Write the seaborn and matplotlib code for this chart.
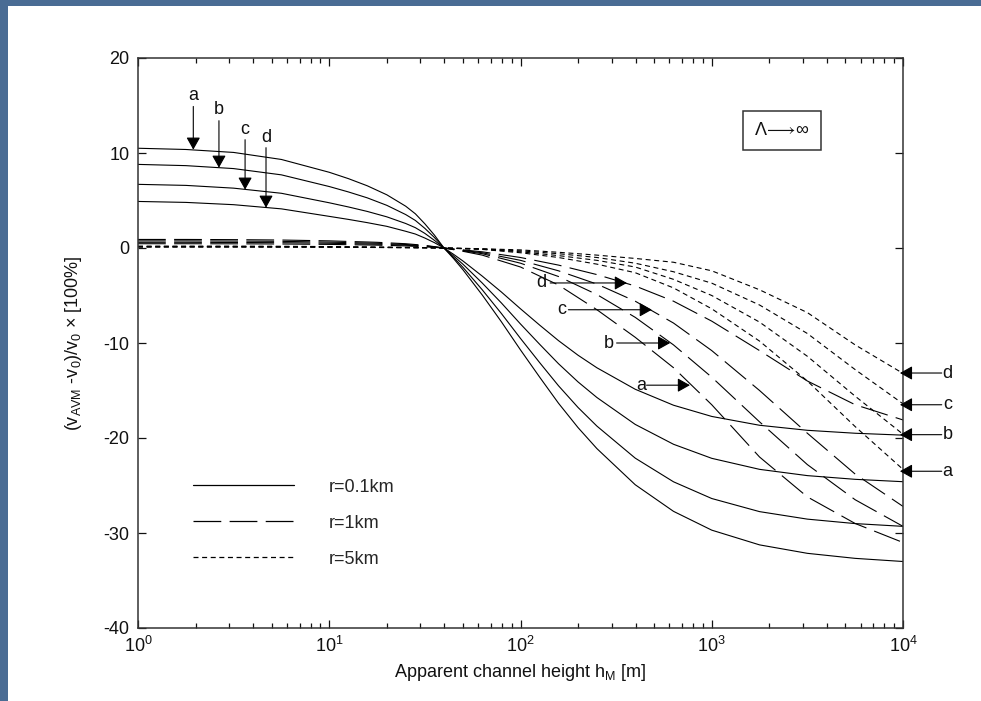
import numpy as np
import pandas as pd
import matplotlib
matplotlib.use("Agg")
import matplotlib.pyplot as plt
import seaborn as sns
from matplotlib.lines import Line2D
from matplotlib.patches import Rectangle

# ---------------- data ----------------
# heights for the r = 0.1 km curves (denser near the crossing point)
h_solid = [1, 1.78, 3.16, 5.62, 10, 12.6, 15.8, 20, 25.1, 28.2, 31.6, 35.5, 39.8, 44.7,
           50.1, 63.1, 79.4, 100, 126, 158, 200, 251, 398, 631, 1000, 1778, 3162, 5623, 10000]
# heights for the r = 1 km and r = 5 km curves
h = [1, 1.78, 3.16, 5.62, 10, 17.8, 25.1, 31.6, 39.8, 50.1, 63.1, 100, 158, 251,
     398, 631, 1000, 1778, 3162, 5623, 10000]

# r = 0.1 km (solid)
solid_a = [10.5, 10.37, 10.06, 9.32, 7.97, 7.30, 6.55, 5.60, 4.40, 3.60, 2.55, 1.35, 0,
           -1.12, -2.31, -4.95, -7.76, -10.73, -13.6, -16.34, -18.91, -21.12, -24.92,
           -27.72, -29.7, -31.25, -32.14, -32.67, -33.0]
solid_b = [8.8, 8.67, 8.36, 7.7, 6.47, 5.9, 5.28, 4.49, 3.52, 2.9, 2.07, 1.1, 0,
           -1.0, -2.05, -4.4, -6.89, -9.52, -12.07, -14.5, -16.79, -18.75, -22.12,
           -24.61, -26.37, -27.75, -28.54, -29.01, -29.3]
solid_c = [6.7, 6.59, 6.3, 5.76, 4.76, 4.32, 3.85, 3.28, 2.58, 2.14, 1.54, 0.8, 0,
           -0.84, -1.72, -3.69, -5.78, -8.0, -10.14, -12.18, -14.1, -15.74, -18.57,
           -20.66, -22.14, -23.3, -23.96, -24.35, -24.6]
solid_d = [4.9, 4.8, 4.56, 4.12, 3.33, 3.01, 2.67, 2.28, 1.76, 1.47, 1.05, 0.56, 0,
           -0.67, -1.38, -2.96, -4.63, -6.4, -8.12, -9.75, -11.29, -12.61, -14.87,
           -16.55, -17.73, -18.66, -19.19, -19.5, -19.7]

# r = 1 km (dashed)
dash_a = [0.9, 0.9, 0.88, 0.84, 0.75, 0.6, 0.45, 0.28, 0, -0.35, -0.75, -2.0, -3.9, -6.5,
          -9.4, -12.6, -16.5, -22.0, -26.2, -29.0, -31.0]
dash_b = [0.75, 0.75, 0.73, 0.7, 0.62, 0.5, 0.37, 0.23, 0, -0.3, -0.6, -1.6, -3.0, -4.9,
          -7.3, -10.2, -13.6, -18.3, -22.8, -26.5, -29.3]
dash_c = [0.6, 0.6, 0.58, 0.56, 0.5, 0.4, 0.3, 0.18, 0, -0.25, -0.5, -1.3, -2.4, -3.8,
          -5.6, -7.9, -10.8, -15.0, -19.5, -23.8, -27.2]
dash_d = [0.45, 0.45, 0.44, 0.42, 0.38, 0.3, 0.22, 0.13, 0, -0.2, -0.4, -1.0, -1.8, -2.8,
          -4.0, -5.6, -7.7, -10.8, -14.0, -16.5, -18.1]

# r = 5 km (dotted)
dot_a = [0.2, 0.2, 0.2, 0.18, 0.15, 0.1, 0.07, 0.04, 0, -0.08, -0.15, -0.5, -1.0, -1.7,
         -2.6, -4.2, -6.4, -9.8, -14.0, -18.8, -23.3]
dot_b = [0.15, 0.15, 0.15, 0.14, 0.12, 0.08, 0.05, 0.03, 0, -0.06, -0.12, -0.4, -0.8, -1.3,
         -2.0, -3.3, -5.0, -7.8, -11.4, -15.6, -19.6]
dot_c = [0.12, 0.12, 0.12, 0.11, 0.1, 0.06, 0.04, 0.02, 0, -0.05, -0.1, -0.3, -0.6, -1.0,
         -1.6, -2.5, -3.7, -6.0, -9.0, -12.8, -16.4]
dot_d = [0.1, 0.1, 0.1, 0.09, 0.08, 0.05, 0.03, 0.02, 0, -0.03, -0.08, -0.2, -0.45, -0.75,
         -1.1, -1.5, -2.4, -4.4, -6.8, -10.2, -13.2]

series = {
    ("r=0.1km", "a"): (h_solid, solid_a), ("r=0.1km", "b"): (h_solid, solid_b),
    ("r=0.1km", "c"): (h_solid, solid_c), ("r=0.1km", "d"): (h_solid, solid_d),
    ("r=1km", "a"): (h, dash_a), ("r=1km", "b"): (h, dash_b),
    ("r=1km", "c"): (h, dash_c), ("r=1km", "d"): (h, dash_d),
    ("r=5km", "a"): (h, dot_a), ("r=5km", "b"): (h, dot_b),
    ("r=5km", "c"): (h, dot_c), ("r=5km", "d"): (h, dot_d),
}
legend_labels = ["r=0.1km", "r=1km", "r=5km"]

# annotation arrows
curve_letters = ["a", "b", "c", "d"]
top_arrow_x = [1.946, 2.65, 3.63, 4.67]
top_label_y = [16.1, 14.55, 12.45, 11.6]
top_start_y = [14.9, 13.4, 11.4, 10.56]
top_tip_y = [10.35, 8.45, 6.14, 4.24]

mid_label_x = [427, 291, 164.5, 129]
mid_start_x = [456, 318, 178, 143]
mid_tip_x = [769, 606, 486, 360]
mid_y = [-14.44, -10.0, -6.5, -3.68]

right_y = [-23.5, -19.65, -16.5, -13.16]
right_label_x = 17060
right_start_x = 15940
right_tip_x = 9640

rows = []
for (r, c), (hs, vals) in series.items():
    for hx, v in zip(hs, vals):
        rows.append({"h": hx, "v": v, "r": r, "curve": r + c})
df = pd.DataFrame(rows)

# ---------------- style ----------------
sns.set_theme(style="ticks")
plt.rcParams["font.family"] = ["Liberation Sans", "DejaVu Sans"]
plt.rcParams["mathtext.default"] = "regular"
plt.rcParams["axes.unicode_minus"] = False
plt.rcParams["lines.scale_dashes"] = False

FS = 13
INK = "#111111"

fig = plt.figure(figsize=(9.81, 7.01), dpi=100, facecolor="#4a6c94")
fig.add_artist(Rectangle((7.5 / 981, 0), 1, 1 - 6 / 701, transform=fig.transFigure,
                         facecolor="white", edgecolor="none", zorder=-10))
ax = fig.add_axes([138 / 981, 1 - 628 / 701, 765 / 981, 570 / 701])
ax.set_facecolor("white")

dash_map = {"r=0.1km": "", "r=1km": (20, 6), "r=5km": (3.6, 2.6)}
sns.lineplot(data=df, x="h", y="v", units="curve", estimator=None, style="r",
             dashes=dash_map, color="black", lw=0.8, legend=False, sort=False, ax=ax)

ax.set_xscale("log")
ax.set_xlim(1, 1e4)
ax.set_ylim(-40, 20)
ax.set_yticks([-40, -30, -20, -10, 0, 10, 20])
ax.tick_params(which="both", direction="in", top=True, right=True, colors=INK,
               labelsize=FS, width=0.9)
ax.tick_params(which="major", length=6, pad=6)
ax.tick_params(which="minor", length=3.5)
ax.tick_params(axis="y", which="minor", left=False, right=False)
for s in ax.spines.values():
    s.set_color("#333333")
    s.set_linewidth(1.1)

ax.set_xlabel("Apparent channel height h$_M$ [m]", fontsize=FS, color=INK, labelpad=4)
ax.set_ylabel("(v$_{AVM}$ -v$_0$)/v$_0$ × [100%]", fontsize=FS, color=INK, labelpad=14)

# legend
handles = [Line2D([], [], color="black", lw=0.9, dashes=dash_map[l]) if dash_map[l]
           else Line2D([], [], color="black", lw=0.9) for l in legend_labels]
ax.legend(handles, legend_labels, loc="upper left", bbox_to_anchor=(0.072, 0.262),
          frameon=False, fontsize=FS, handlelength=5.6, handletextpad=1.9,
          labelspacing=1.05, borderpad=0, borderaxespad=0)

# Lambda box
ax.text(2330, 12.35, r"$\Lambda\!\longrightarrow\!\infty$", fontsize=FS, ha="center",
        va="center", color=INK,
        bbox=dict(boxstyle="square,pad=0.6", facecolor="white", edgecolor="#333333", lw=1.1))

arrow_kw = dict(arrowstyle="-|>,head_length=0.75,head_width=0.42", color="black",
                lw=0.8, shrinkA=0, shrinkB=0, mutation_scale=10)

for i, L in enumerate(curve_letters):
    ax.text(top_arrow_x[i], top_label_y[i], L, fontsize=FS, ha="center", va="center", color=INK)
    ax.annotate("", xy=(top_arrow_x[i], top_tip_y[i]), xytext=(top_arrow_x[i], top_start_y[i]),
                arrowprops=arrow_kw)
    ax.text(mid_label_x[i], mid_y[i], L, fontsize=FS, ha="center", va="center", color=INK)
    ax.annotate("", xy=(mid_tip_x[i], mid_y[i]), xytext=(mid_start_x[i], mid_y[i]),
                arrowprops=arrow_kw)
    ax.text(right_label_x, right_y[i], L, fontsize=FS, ha="center", va="center", color=INK,
            clip_on=False)
    ax.annotate("", xy=(right_tip_x, right_y[i]), xytext=(right_start_x, right_y[i]),
                arrowprops=arrow_kw, annotation_clip=False)

fig.savefig("out.png", dpi=100, facecolor=fig.get_facecolor())
